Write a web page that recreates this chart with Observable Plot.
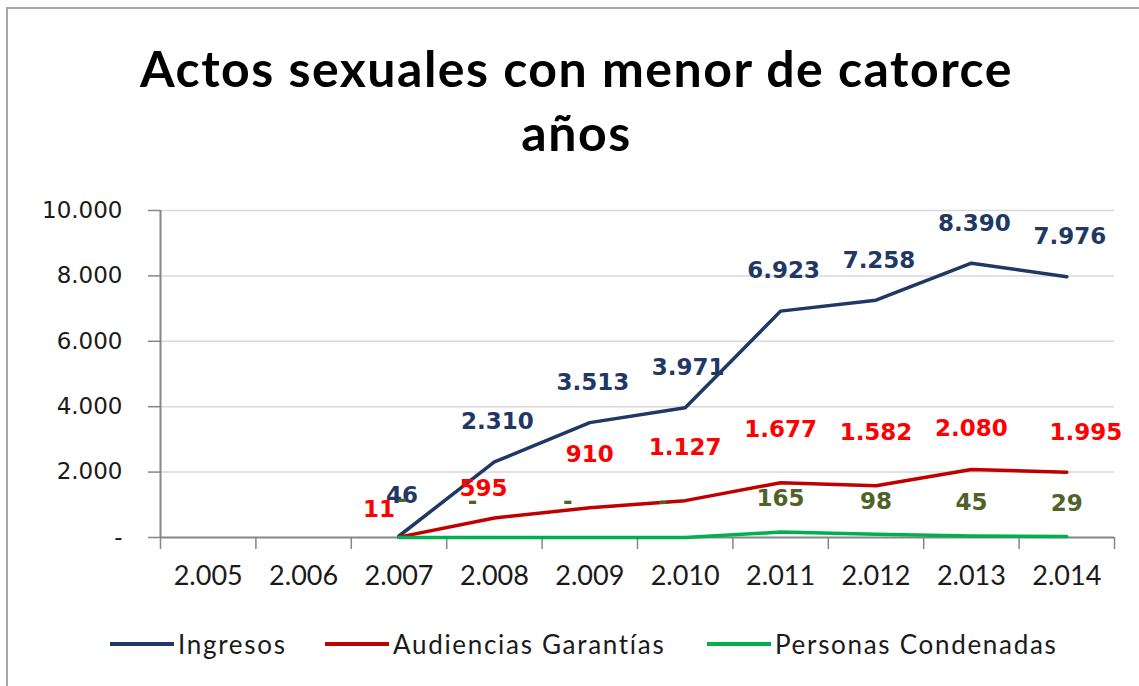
<!DOCTYPE html>
<html>
<head>
<meta charset="utf-8">
<script src="https://cdn.jsdelivr.net/npm/d3@7"></script>
<script src="https://cdn.jsdelivr.net/npm/@observablehq/plot@0.6"></script>
<style>
  html, body { margin: 0; padding: 0; background: #fff; }
  #frame { position: relative; width: 1139px; height: 686px; overflow: hidden; background: #fff; }
  #border { position: absolute; left: 6px; top: 7px; width: 1300px; height: 900px; border: 2px solid #a6a6a6; }
  #title { position: absolute; left: 7px; top: 36px; width: 1139px; text-align: center;
           font-family: Lato, "Open Sans", sans-serif; font-weight: 700; font-size: 50px; line-height: 64px;
           letter-spacing: 1.5px; color: #000; }
  #chart { position: absolute; left: 0; top: 185px; }
  #legend { position: absolute; left: 0; top: 626px; width: 1139px; height: 36px;
            font-family: Lato, "Open Sans", sans-serif; font-size: 26px; letter-spacing: 1.7px; color: #1a1a1a; }
  .item { position: absolute; top: 0; display: flex; align-items: center; height: 36px; }
  .swatch { width: 64px; height: 4px; margin-right: 4px; }
</style>
</head>
<body>
<div id="frame">
  <div id="border"></div>
  <div id="title">Actos sexuales con menor de catorce<br>años</div>
  <div id="chart"></div>
  <div id="legend"></div>
</div>
<script>
// ---- data ----
const years = [2005, 2006, 2007, 2008, 2009, 2010, 2011, 2012, 2013, 2014];
const ingresos   = [null, null, 46, 2310, 3513, 3971, 6923, 7258, 8390, 7976];
const audiencias = [null, null, 11, 595, 910, 1127, 1677, 1582, 2080, 1995];
const condenadas = [null, null, 0, 0, 0, 0, 165, 98, 45, 29];
const seriesNames = ["Ingresos", "Audiencias Garantías", "Personas Condenadas"];
const lineColors  = ["#1f3864", "#c00000", "#00b050"];
const labelColors = ["#1f3864", "#ff0000", "#4f6228"];
const yTicks = [0, 2000, 4000, 6000, 8000, 10000];

// ---- build table ----
const seriesValues = [ingresos, audiencias, condenadas];
const rows = [];
seriesNames.forEach((s, i) => {
  years.forEach((yr, j) => {
    const v = seriesValues[i][j];
    if (v !== null) rows.push({year: yr, value: v, series: s});
  });
});

const loc = d3.formatLocale({decimal: ",", thousands: ".", grouping: [3], currency: ["$", ""]});
const fmtN = loc.format(",d");
const fmtVal = v => v === 0 ? "-" : fmtN(v);
const boundaries = [years[0] - 0.5, ...years.map(y => y + 0.5)];

const labelFont = "DejaVu Sans, Verdana, sans-serif";
const bySeries = i => rows.filter(d => d.series === seriesNames[i]);
const lbl = (data, i, extra) => Plot.text(data, Object.assign({
  x: "year", y: "value", text: d => fmtVal(d.value),
  fill: labelColors[i], fontSize: 23, fontWeight: "bold", fontFamily: labelFont
}, extra));

const red = bySeries(1);
const green = bySeries(2);

const plot = Plot.plot({
  width: 1139,
  height: 420,
  marginLeft: 160,
  marginRight: 25,
  marginTop: 25,
  marginBottom: 68,
  style: {fontFamily: labelFont, background: "transparent", overflow: "visible"},
  x: {type: "linear", domain: [boundaries[0], boundaries[boundaries.length - 1]], axis: null},
  y: {domain: [0, 10000], axis: null},
  color: {domain: seriesNames, range: lineColors},
  marks: [
    Plot.gridY(yTicks.filter(d => d > 0), {stroke: "#d9d9d9", strokeOpacity: 1, strokeWidth: 1.5}),
    Plot.axisY(yTicks, {tickSize: 12, tickFormat: () => "", label: null, stroke: "#868686", strokeWidth: 1.5}),
    Plot.axisY(yTicks, {tickSize: 0, tickPadding: 38, tickFormat: fmtVal, label: null, fill: "#1a1a1a", fontSize: 23, fontFamily: labelFont}),
    Plot.axisX(boundaries, {tickSize: 12, tickFormat: () => "", label: null, stroke: "#868686", strokeWidth: 1.5}),
    Plot.axisX(years, {tickSize: 0, tickPadding: 28, tickFormat: fmtN, label: null, fill: "#1a1a1a", fontSize: 27, fontFamily: "Lato, sans-serif"}),
    Plot.ruleX([boundaries[0]], {stroke: "#868686", strokeWidth: 2}),
    Plot.ruleY([0], {stroke: "#868686", strokeWidth: 2}),
    Plot.line(rows, {x: "year", y: "value", z: "series", stroke: "series", strokeWidth: 3.5}),
    // Ingresos labels
    lbl(bySeries(0), 0, {dy: -40, dx: 3}),
    // Audiencias labels
    lbl(red.filter(d => d.year === years[2]), 1, {dy: -28, dx: -20}),
    lbl(red.filter(d => d.year === years[3]), 1, {dy: -29, dx: -11}),
    lbl(red.filter(d => d.year >= years[4] && d.year <= years[7]), 1, {dy: -53}),
    lbl(red.filter(d => d.year === years[8]), 1, {dy: -41}),
    lbl(red.filter(d => d.year === years[9]), 1, {dy: -40, dx: 19}),
    // Personas Condenadas labels
    lbl(green.filter(d => d.value > 0), 2, {dy: -33}),
    lbl(green.filter(d => d.value === 0 && d.year === years[2]), 2, {dy: -38, dx: 3}),
    lbl(green.filter(d => d.value === 0 && d.year > years[2]), 2, {dy: -36, dx: -22})
  ]
});
document.getElementById("chart").appendChild(plot);

// ---- legend ----
const legend = document.getElementById("legend");
const legendLeft = [110, 325, 707];
seriesNames.forEach((s, i) => {
  const item = document.createElement("div");
  item.className = "item";
  item.style.left = legendLeft[i] + "px";
  const sw = document.createElement("div");
  sw.className = "swatch";
  sw.style.background = lineColors[i];
  const tx = document.createElement("span");
  tx.textContent = s;
  item.appendChild(sw);
  item.appendChild(tx);
  legend.appendChild(item);
});
</script>
</body>
</html>
